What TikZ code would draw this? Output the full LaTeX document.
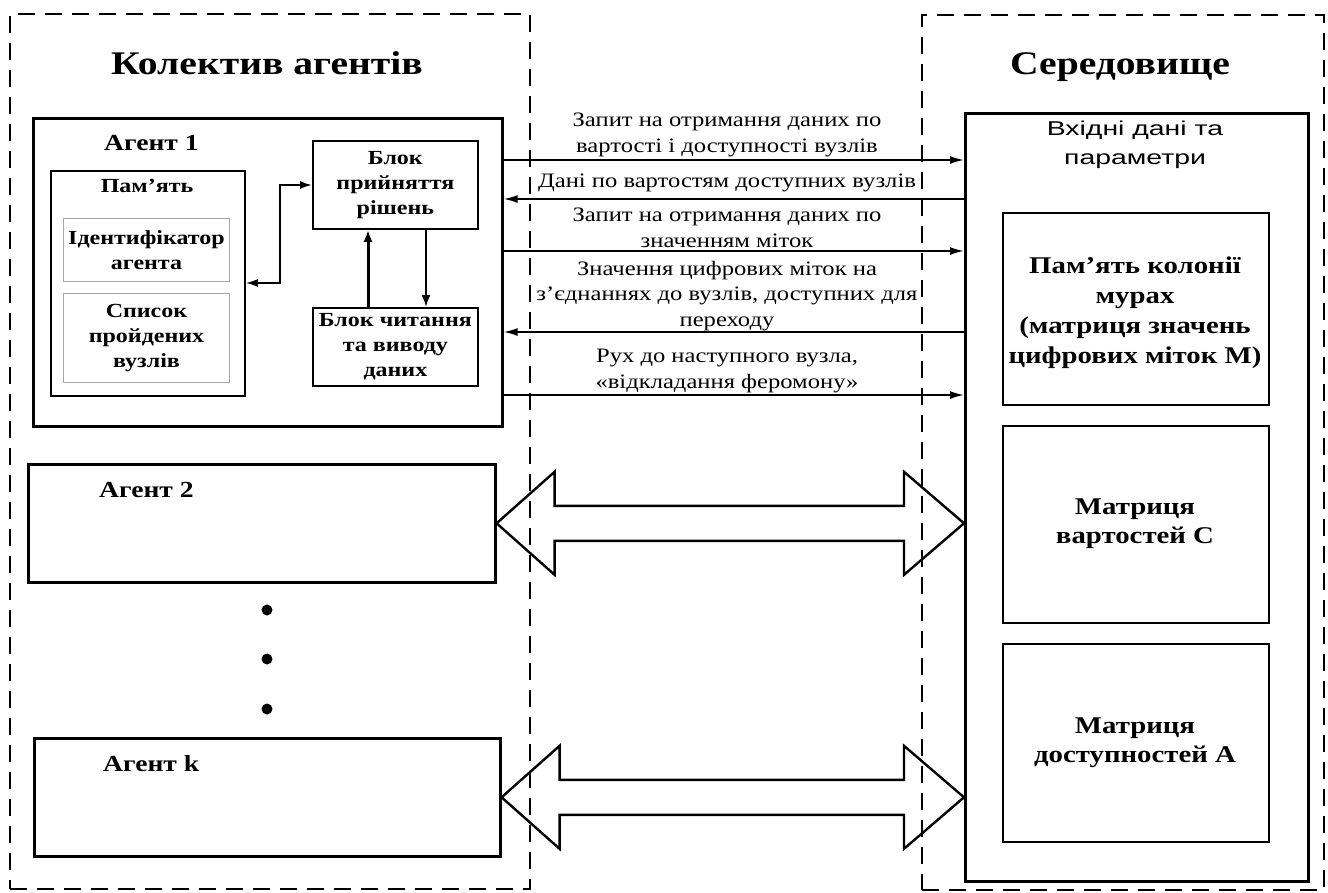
\documentclass[tikz,border=0pt]{standalone}
\usepackage{fontspec}
\setmainfont{Liberation Serif}[FakeStretch=1.2]
\newfontfamily\sansf{Liberation Sans}[FakeStretch=1.42]
\usetikzlibrary{arrows.meta,calc}
\begin{document}
\begin{tikzpicture}[x=1pt,y=-1pt,
  bnd/.style={draw, line width=1.8pt, dash pattern=on 17pt off 10pt, inner sep=0, anchor=north west},
  boxA/.style={draw, line width=2.6pt, inner sep=0, anchor=north west},
  boxB/.style={draw, line width=1.8pt, inner sep=0, anchor=north west},
  boxC/.style={draw=black!35, line width=1pt, inner sep=0, anchor=north west},
  msg/.style={line width=1.8pt, -{Latex[length=14pt,width=8pt]}},
  lbl/.style={font=\fontsize{20.5}{25.5}\selectfont, align=center, inner sep=0},
  btxt/.style={font=\bfseries\fontsize{20}{25}\selectfont, align=center, inner sep=0},
  etxt/.style={font=\bfseries\fontsize{24}{30}\selectfont, align=center, inner sep=0},
  ttl/.style={font=\bfseries\fontsize{33}{38}\selectfont, inner sep=0, anchor=base},
  agl/.style={font=\bfseries\fontsize{23}{26}\selectfont, inner sep=0, anchor=base west},
  dbl/.style={draw, line width=2.4pt, line join=miter},
  dot/.style={circle, fill, inner sep=0, minimum size=11pt}
]
\useasboundingbox (0,0) rectangle (1328,892);
% boundaries
\node[bnd, minimum width=520, minimum height=875] (colL) at (9,13) {};
\node[bnd, minimum width=402, minimum height=875] (colR) at (921,14) {};
\node[ttl] (tL) at (267,74) {Колектив агентів};
\node[ttl] (tR) at (1120,74) {Середовище};
% agent 1
\node[boxA, minimum width=469, minimum height=308] (a1) at (32,117) {};
\node[agl] (a1t) at (104,150) {Агент 1};
\node[boxB, minimum width=194, minimum height=225] (mem) at (50,170) {};
\node[btxt] (memt) at (147,186) {Пам’ять};
\node[boxC, minimum width=166, minimum height=63] (idb) at (63,218) {};
\node[btxt] (idt) at (idb.center) {Ідентифікатор\\агента};
\node[boxC, minimum width=166, minimum height=89] (lsb) at (63,293) {};
\node[btxt] (lst) at (lsb.center) {Список\\пройдених\\вузлів};
\node[boxB, minimum width=165, minimum height=88] (dec) at (312,140) {};
\node[btxt] (dect) at (dec.center) {Блок\\прийняття\\рішень};
\node[boxB, minimum width=165, minimum height=78] (rd) at (312,307) {};
\node[btxt] (rdt) at (rd.center) {Блок читання\\та виводу\\даних};
\draw[line width=1.8pt, {Latex[length=12pt,width=8pt]}-{Latex[length=12pt,width=8pt]}]
  (mem.east |- 0,283) -- (280,283) |- (dec.west |- 0,185);
\draw[line width=3pt, -{Latex[length=12pt,width=9pt]}] (rd.north -| 368,0) -- (dec.south -| 368,0);
\draw[line width=2pt, -{Latex[length=12pt,width=9pt]}] (dec.south -| 426,0) -- (rd.north -| 426,0);
% environment
\node[boxA, minimum width=343, minimum height=768] (env) at (964,112) {};
\node[font=\sansf\fontsize{20}{29}\selectfont, align=center, inner sep=0] (envt) at (1135,145) {Вхідні дані та\\параметри};
\node[boxB, minimum width=266, minimum height=192] (pm) at (1002,212) {};
\node[etxt] (pmt) at (1135,313) {Пам’ять колонії\\мурах\\(матриця значень\\цифрових міток М)};
\node[boxB, minimum width=266, minimum height=197] (mc) at (1002,425) {};
\node[etxt, font=\bfseries\fontsize{24}{29}\selectfont] (mct) at (1135,524) {Матриця\\вартостей С};
\node[boxB, minimum width=266, minimum height=198] (ma) at (1002,643) {};
\node[etxt, font=\bfseries\fontsize{24}{29}\selectfont] (mat) at (1135,743) {Матриця\\доступностей А};
% messages
\draw[msg] (a1.east |- 0,160) -- (env.west |- 0,160);
\node[lbl] (l1) at (727,135) {Запит на отримання даних по\\вартості і доступності вузлів};
\draw[msg] (env.west |- 0,199) -- (a1.east |- 0,199);
\node[lbl] (l2) at (727,183) {Дані по вартостям доступних вузлів};
\draw[msg] (a1.east |- 0,251) -- (env.west |- 0,251);
\node[lbl] (l3) at (727,228) {Запит на отримання даних по\\значенням міток};
\draw[msg] (env.west |- 0,332) -- (a1.east |- 0,332);
\node[lbl] (l4) at (727,296) {Значення цифрових міток на\\з’єднаннях до вузлів, доступних для\\переходу};
\draw[msg] (a1.east |- 0,395) -- (env.west |- 0,395);
\node[lbl] (l5) at (727,371) {Рух до наступного вузла,\\«відкладання феромону»};
% agents 2, k
\node[boxA, minimum width=467, minimum height=118] (a2) at (27,463) {};
\node[agl] (a2t) at (99,497) {Агент 2};
\node[boxA, minimum width=466, minimum height=118] (ak) at (33,737) {};
\node[agl] (akt) at (103,771) {Агент k};
\node[dot] (d1) at (267,610) {};
\node[dot] (d2) at (267,659) {};
\node[dot] (d3) at (267,709) {};
% double arrows
\foreach \a in {a2,ak}{
  \coordinate (L) at (\a.east);
  \coordinate (R) at (env.west |- \a.east);
  \draw[dbl] (L) -- ($(L)+(58,-51.5)$) -- ($(L)+(58,-17.5)$) -- ($(R)+(-60,-17.5)$)
    -- ($(R)+(-60,-51.5)$) -- (R) -- ($(R)+(-60,51.5)$) -- ($(R)+(-60,17.5)$)
    -- ($(L)+(58,17.5)$) -- ($(L)+(58,51.5)$) -- cycle;
}
\end{tikzpicture}
\end{document}
